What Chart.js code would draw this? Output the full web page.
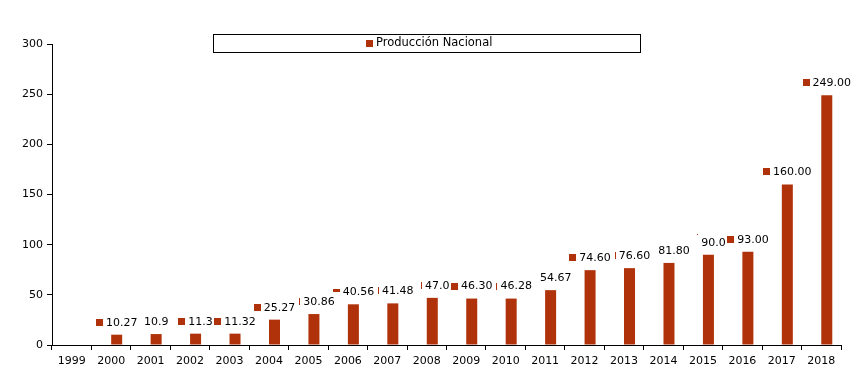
<!DOCTYPE html>
<html>
<head>
<meta charset="utf-8">
<script src="https://cdn.jsdelivr.net/npm/chart.js@4"></script>
<style>
  html, body { margin: 0; padding: 0; background: #fff; }
  #wrap { width: 859px; height: 380px; }
</style>
</head>
<body>
<div id="wrap"><canvas id="c" width="859" height="380"></canvas></div>
<script>
const categories = ['1999','2000','2001','2002','2003','2004','2005','2006','2007','2008','2009','2010','2011','2012','2013','2014','2015','2016','2017','2018'];
const produccion = [null, 10.27, 10.9, 11.3, 11.32, 25.27, 30.86, 40.56, 41.48, 47.0, 46.30, 46.28, 54.67, 74.60, 76.60, 81.80, 90.0, 93.00, 160.00, 249.00];
const labelTexts = ['', '10.27', '10.9', '11.3', '11.32', '25.27', '30.86', '40.56', '41.48', '47.0', '46.30', '46.28', '54.67', '74.60', '76.60', '81.80', '90.0', '93.00', '160.00', '249.00'];
const seriesName = 'Producción Nacional';
const yMin = 0, yMax = 300, yStep = 50;

const BAR_COLOR = '#B0320A';
const FONT = 'DejaVu Sans';
// legend-key appearance next to each data label (as rendered in the original)
const keyStyles = ['none','sq','nokey','sq','sq','sq','line','wide','line','line','sq','line','none','sq','line','none','dot','sq','sq','sq'];

const dataLabelPlugin = {
  id: 'dataLabels',
  afterDatasetsDraw(chart) {
    const ctx = chart.ctx;
    const meta = chart.getDatasetMeta(1);
    ctx.save();
    ctx.font = '11px "' + FONT + '"';
    ctx.textBaseline = 'middle';
    ctx.textAlign = 'left';
    meta.data.forEach((bar, i) => {
      const v = produccion[i];
      if (v === null || v === undefined) return;
      const txt = labelTexts[i];
      const tw = ctx.measureText(txt).width;
      const style = keyStyles[i];
      const slot = style === 'nokey' ? 0 : 10;
      const total = slot + tw;
      const x0 = bar.x - total / 2;
      const yc = bar.y - 12;
      ctx.fillStyle = BAR_COLOR;
      if (style === 'sq') ctx.fillRect(Math.round(x0), Math.round(yc - 4), 7, 7);
      else if (style === 'line') ctx.fillRect(Math.round(x0 + 6), Math.round(yc - 4), 1, 7);
      else if (style === 'wide') ctx.fillRect(Math.round(x0), Math.round(yc - 3), 7, 3);
      else if (style === 'dot') ctx.fillRect(Math.round(x0 + 6), Math.round(yc - 9), 1, 1);
      ctx.fillStyle = '#000';
      ctx.fillText(txt, x0 + slot, yc);
    });
    ctx.restore();
  }
};

const legendBoxPlugin = {
  id: 'legendBox',
  afterDraw(chart) {
    const ctx = chart.ctx;
    ctx.save();
    ctx.strokeStyle = '#000';
    ctx.lineWidth = 1;
    ctx.strokeRect(213.5, 34.5, 427, 18);
    ctx.fillStyle = BAR_COLOR;
    ctx.fillRect(366, 40, 7, 7);
    ctx.fillStyle = '#000';
    ctx.font = '11.5px "' + FONT + '"';
    ctx.textBaseline = 'middle';
    ctx.textAlign = 'left';
    ctx.fillText(seriesName, 376, 43.5);
    ctx.restore();
  }
};

new Chart(document.getElementById('c'), {
  type: 'bar',
  data: {
    labels: categories,
    datasets: [
      { label: '', data: categories.map(() => null), backgroundColor: 'rgba(0,0,0,0)' },
      { label: seriesName, data: produccion, backgroundColor: BAR_COLOR }
    ]
  },
  options: {
    responsive: false,
    devicePixelRatio: 1,
    animation: false,
    layout: { padding: { top: 44, right: 18, left: 0, bottom: 0 } },
    datasets: { bar: { categoryPercentage: 0.558, barPercentage: 1.0 } },
    plugins: { legend: { display: false }, tooltip: { enabled: false } },
    scales: {
      x: {
        offset: true,
        grid: { offset: true, drawOnChartArea: false, drawTicks: true, tickLength: 5, color: '#000' },
        border: { color: '#000', width: 1 },
        ticks: { color: '#000', font: { family: FONT, size: 11 }, padding: 5, maxRotation: 0, autoSkip: false },
        afterFit: s => { s.height = 35; }
      },
      y: {
        min: yMin, max: yMax,
        grid: { drawOnChartArea: false, drawTicks: true, tickLength: 5, color: '#000' },
        border: { color: '#000', width: 1 },
        ticks: { stepSize: yStep, color: '#000', font: { family: FONT, size: 11 }, padding: 4 },
        afterFit: s => { s.width = 52; }
      }
    }
  },
  plugins: [dataLabelPlugin, legendBoxPlugin]
});
</script>
</body>
</html>
